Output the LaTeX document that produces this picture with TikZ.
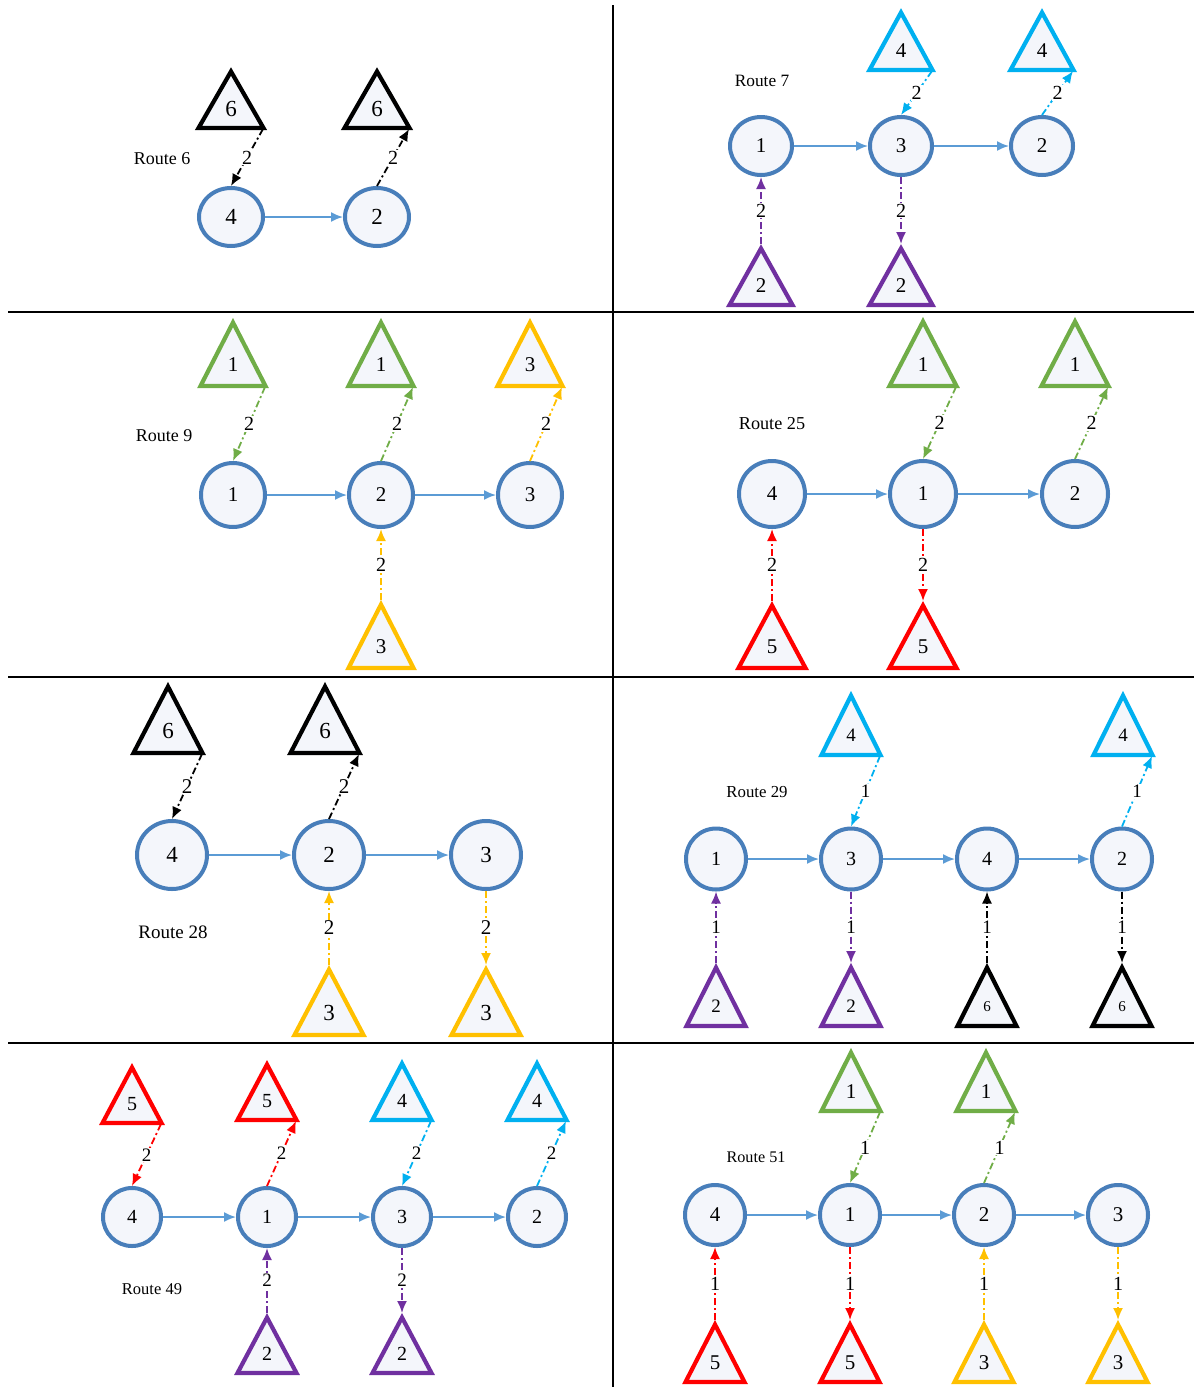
\documentclass[tikz,border=0pt]{standalone}
\usepackage{fontspec}
\setmainfont{Liberation Serif}
\usetikzlibrary{arrows.meta,shapes.geometric,calc}
\definecolor{cblue}{RGB}{72,126,186}
\definecolor{ablue}{RGB}{91,155,213}
\definecolor{ccyan}{RGB}{0,176,240}
\definecolor{cpurple}{RGB}{112,48,160}
\definecolor{cgreen}{RGB}{112,173,71}
\definecolor{corange}{RGB}{255,192,0}
\definecolor{cred}{RGB}{255,0,0}
\definecolor{nfill}{RGB}{244,246,251}
\newcommand\fsz[1]{\fontsize{#1}{#1}\selectfont}
\def\cfs{20}\def\tfs{20}\def\efs{19}
\tikzset{
  cnode/.style={ellipse, draw=cblue, line width=4pt, fill=nfill, inner sep=0pt, font=\fsz{\cfs}},
  tri/.style={line width=4.2pt, fill=nfill},
  flow/.style={draw=ablue, line width=1.8pt, -{Latex[length=12pt,width=10pt]}},
  link/.style={line width=1.8pt, dash pattern=on 7pt off 3pt on 2pt off 3pt, -{Latex[length=12pt,width=10pt]}},
  elab/.style={fill=white, inner sep=1pt, font=\fsz{\efs}},
  grid/.style={line width=2pt, draw=black},
}
% circle node: name, x, y, width, height, label
\newcommand\cn[6]{\node[cnode, minimum width=#4pt, minimum height=#5pt] (#1) at (#2,#3) {#6};}
% triangle: name, x, apex y, base y, half width, colour, label
\newcommand\tn[7]{%
  \coordinate (#1-a) at (#2,#3);
  \coordinate (#1-r) at ({#2+#5-3},{#4-1});
  \draw[tri,draw=#6] (#2,{#3+4.5}) -- ({#2+#5-2.5},{#4-2}) -- ({#2-#5+2.5},{#4-2}) -- cycle;
  \node[font=\fsz{\tfs}, inner sep=0pt] (#1) at (#2,{#3+2*(#4-#3)/3}) {#7};}
% dashed link: name, from, to, colour, label
\newcommand\lk[5]{\draw[link,draw=#4] (#2) -- node[elab] (#1) {#5} (#3);}
\begin{document}
\begin{tikzpicture}[x=1pt,y=-1pt]
\useasboundingbox (0,0) rectangle (1194,1387);
% grid
\draw[grid] (8,312) -- (1194,312);
\draw[grid] (8,677) -- (1194,677);
\draw[grid] (8,1043) -- (1194,1043);
\draw[grid] (613,5) -- (613,1387);

% ---------- Route 6 ----------
\def\cfs{23}\def\tfs{23}\def\efs{20}
\node[font=\fsz{18}] (r6) at (162,159) {Route 6};
\cn{p1c4}{231}{217}{64}{58}{4}
\cn{p1c2}{377}{217}{64}{58}{2}
\tn{p1t1}{231}{67}{130}{35}{black}{6}
\tn{p1t2}{377}{67}{130}{35}{black}{6}
\draw[flow] (p1c4) -- (p1c2);
\lk{p1l1}{p1t1-r}{p1c4.north}{black}{2}
\lk{p1l2}{p1c2.north}{p1t2-r}{black}{2}

% ---------- Route 7 ----------
\def\cfs{21}\def\tfs{21}\def\efs{20}
\node[font=\fsz{17.3}] (r7) at (762,81) {Route 7};
\cn{p2c1}{761}{146}{62}{58}{1}
\cn{p2c3}{901}{146}{62}{58}{3}
\cn{p2c2}{1042}{146}{62}{58}{2}
\tn{p2t1}{901}{8}{72}{34}{ccyan}{4}
\tn{p2t2}{1042}{8}{72}{34}{ccyan}{4}
\tn{p2b1}{761}{244}{307}{34}{cpurple}{2}
\tn{p2b2}{901}{244}{307}{34}{cpurple}{2}
\draw[flow] (p2c1) -- (p2c3);
\draw[flow] (p2c3) -- (p2c2);
\lk{p2l1}{p2t1-r}{p2c3.north}{ccyan}{2}
\lk{p2l2}{p2c2.north}{p2t2-r}{ccyan}{2}
\lk{p2l3}{p2b1-a}{p2c1.south}{cpurple}{2}
\lk{p2l4}{p2c3.south}{p2b2-a}{cpurple}{2}

% ---------- Route 9 ----------
\def\cfs{21}\def\tfs{21}\def\efs{20}
\node[font=\fsz{18}] (r9) at (164,436) {Route 9};
\cn{p3c1}{233}{495}{64}{64}{1}
\cn{p3c2}{381}{495}{64}{64}{2}
\cn{p3c3}{530}{495}{64}{64}{3}
\tn{p3t1}{233}{318}{388}{35}{cgreen}{1}
\tn{p3t2}{381}{318}{388}{35}{cgreen}{1}
\tn{p3t3}{530}{318}{388}{35}{corange}{3}
\tn{p3b1}{381}{600}{670}{35}{corange}{3}
\draw[flow] (p3c1) -- (p3c2);
\draw[flow] (p3c2) -- (p3c3);
\lk{p3l1}{p3t1-r}{p3c1.north}{cgreen}{2}
\lk{p3l2}{p3c2.north}{p3t2-r}{cgreen}{2}
\lk{p3l3}{p3c3.north}{p3t3-r}{corange}{2}
\lk{p3l4}{p3b1-a}{p3c2.south}{corange}{2}

% ---------- Route 25 ----------
\def\cfs{21}\def\tfs{21}\def\efs{20}
\node[font=\fsz{18.2}] (r25) at (772,424) {Route 25};
\cn{p4c4}{772}{494}{66}{66}{4}
\cn{p4c1}{923}{494}{66}{66}{1}
\cn{p4c2}{1075}{494}{66}{66}{2}
\tn{p4t1}{923}{317}{388}{36}{cgreen}{1}
\tn{p4t2}{1075}{317}{388}{36}{cgreen}{1}
\tn{p4b1}{772}{601}{670}{36}{cred}{5}
\tn{p4b2}{923}{601}{670}{36}{cred}{5}
\draw[flow] (p4c4) -- (p4c1);
\draw[flow] (p4c1) -- (p4c2);
\lk{p4l1}{p4t1-r}{p4c1.north}{cgreen}{2}
\lk{p4l2}{p4c2.north}{p4t2-r}{cgreen}{2}
\lk{p4l3}{p4b1-a}{p4c4.south}{cred}{2}
\lk{p4l4}{p4c1.south}{p4b2-a}{cred}{2}

% ---------- Route 28 ----------
\def\cfs{23}\def\tfs{23}\def\efs{21}
\node[font=\fsz{19}] (r28) at (173,932) {Route 28};
\cn{p5c4}{172}{855}{70}{68}{4}
\cn{p5c2}{329}{855}{70}{68}{2}
\cn{p5c3}{486}{855}{70}{68}{3}
\tn{p5t1}{168}{682}{755}{37}{black}{6}
\tn{p5t2}{325}{682}{755}{37}{black}{6}
\tn{p5b1}{329}{965}{1037}{37}{corange}{3}
\tn{p5b2}{486}{965}{1037}{37}{corange}{3}
\draw[flow] (p5c4) -- (p5c2);
\draw[flow] (p5c2) -- (p5c3);
\lk{p5l1}{p5t1-r}{p5c4.north}{black}{2}
\lk{p5l2}{p5c2.north}{p5t2-r}{black}{2}
\lk{p5l3}{p5b1-a}{p5c2.south}{corange}{2}
\lk{p5l4}{p5c3.south}{p5b2-a}{corange}{2}

% ---------- Route 29 ----------
\def\cfs{20}\def\tfs{19}\def\efs{19}
\node[font=\fsz{16.8}] (r29) at (757,792) {Route 29};
\cn{p6c1}{716}{859}{60}{61}{1}
\cn{p6c3}{851}{859}{60}{61}{3}
\cn{p6c4}{987}{859}{60}{61}{4}
\cn{p6c2}{1122}{859}{60}{61}{2}
\tn{p6t1}{851}{691}{757}{32}{ccyan}{4}
\tn{p6t2}{1123}{691}{757}{32}{ccyan}{4}
\tn{p6b1}{716}{963}{1028}{32}{cpurple}{2}
\tn{p6b2}{851}{963}{1028}{32}{cpurple}{2}
\def\tfs{15}
\tn{p6b3}{987}{963}{1028}{32}{black}{6}
\tn{p6b4}{1122}{963}{1028}{32}{black}{6}
\draw[flow] (p6c1) -- (p6c3);
\draw[flow] (p6c3) -- (p6c4);
\draw[flow] (p6c4) -- (p6c2);
\lk{p6l1}{p6t1-r}{p6c3.north}{ccyan}{1}
\lk{p6l2}{p6c2.north}{p6t2-r}{ccyan}{1}
\lk{p6l3}{p6b1-a}{p6c1.south}{cpurple}{1}
\lk{p6l4}{p6c3.south}{p6b2-a}{cpurple}{1}
\lk{p6l5}{p6b3-a}{p6c4.south}{black}{1}
\lk{p6l6}{p6c2.south}{p6b4-a}{black}{1}

% ---------- Route 49 ----------
\def\cfs{20}\def\tfs{20}\def\efs{19}
\node[font=\fsz{16.5}] (r49) at (152,1289) {Route 49};
\cn{p7c4}{132}{1217}{58}{58}{4}
\cn{p7c1}{267}{1217}{58}{58}{1}
\cn{p7c3}{402}{1217}{58}{58}{3}
\cn{p7c2}{537}{1217}{58}{58}{2}
\tn{p7t1}{132}{1063}{1125}{32}{cred}{5}
\tn{p7t2}{267}{1060}{1122}{32}{cred}{5}
\tn{p7t3}{402}{1059}{1122}{32}{ccyan}{4}
\tn{p7t4}{537}{1059}{1122}{32}{ccyan}{4}
\tn{p7b1}{267}{1313}{1375}{32}{cpurple}{2}
\tn{p7b2}{402}{1313}{1375}{32}{cpurple}{2}
\draw[flow] (p7c4) -- (p7c1);
\draw[flow] (p7c1) -- (p7c3);
\draw[flow] (p7c3) -- (p7c2);
\lk{p7l1}{p7t1-r}{p7c4.north}{cred}{2}
\lk{p7l2}{p7c1.north}{p7t2-r}{cred}{2}
\lk{p7l3}{p7t3-r}{p7c3.north}{ccyan}{2}
\lk{p7l4}{p7c2.north}{p7t4-r}{ccyan}{2}
\lk{p7l5}{p7b1-a}{p7c1.south}{cpurple}{2}
\lk{p7l6}{p7c3.south}{p7b2-a}{cpurple}{2}

% ---------- Route 51 ----------
\def\cfs{21}\def\tfs{21}\def\efs{20}
\node[font=\fsz{16.2}] (r51) at (756,1157) {Route 51};
\cn{p8c4}{715}{1215}{60}{60}{4}
\cn{p8c1}{850}{1215}{60}{60}{1}
\cn{p8c2}{984}{1215}{60}{60}{2}
\cn{p8c3}{1118}{1215}{60}{60}{3}
\tn{p8t1}{851}{1048}{1113}{32}{cgreen}{1}
\tn{p8t2}{986}{1048}{1113}{32}{cgreen}{1}
\tn{p8b1}{715}{1320}{1384}{32}{cred}{5}
\tn{p8b2}{850}{1320}{1384}{32}{cred}{5}
\tn{p8b3}{984}{1320}{1384}{32}{corange}{3}
\tn{p8b4}{1118}{1320}{1384}{32}{corange}{3}
\draw[flow] (p8c4) -- (p8c1);
\draw[flow] (p8c1) -- (p8c2);
\draw[flow] (p8c2) -- (p8c3);
\lk{p8l1}{p8t1-r}{p8c1.north}{cgreen}{1}
\lk{p8l2}{p8c2.north}{p8t2-r}{cgreen}{1}
\lk{p8l3}{p8b1-a}{p8c4.south}{cred}{1}
\lk{p8l4}{p8c1.south}{p8b2-a}{cred}{1}
\lk{p8l5}{p8b3-a}{p8c2.south}{corange}{1}
\lk{p8l6}{p8c3.south}{p8b4-a}{corange}{1}
\end{tikzpicture}
\end{document}
